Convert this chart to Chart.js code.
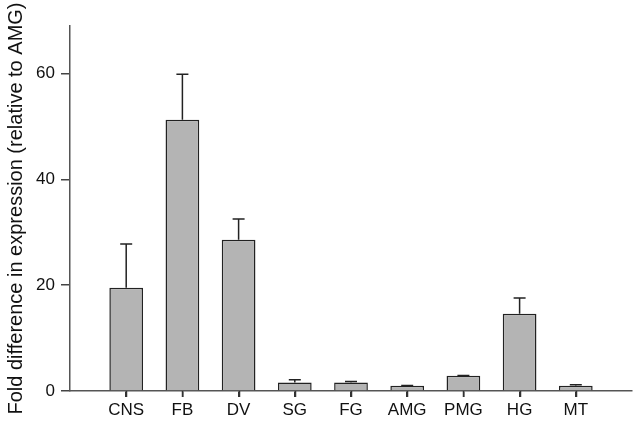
<!DOCTYPE html>
<html>
<head>
<meta charset="utf-8">
<script src="https://cdn.jsdelivr.net/npm/chart.js@4.4.1/dist/chart.umd.min.js"></script>
<style>
html,body{margin:0;padding:0;background:#fff;}
#wrap{width:638px;height:423px;}
</style>
</head>
<body>
<div id="wrap"><canvas id="c" width="638" height="423"></canvas></div>
<script>
const categories = ['CNS','FB','DV','SG','FG','AMG','PMG','HG','MT'];
const means = [19.5, 51.3, 28.6, 1.6, 1.6, 1.0, 2.9, 14.6, 1.0];
const errors = [8.3, 8.6, 3.9, 0.55, 0.2, 0.05, 0.05, 3.0, 0.2];
const yTicks = [0, 20, 40, 60];

const FONT = 'Liberation Sans, Arial, sans-serif';

const errorBarPlugin = {
  id: 'errorBars',
  afterDatasetsDraw(chart) {
    const ctx = chart.ctx;
    const xs = chart.scales.x, ys = chart.scales.y;
    ctx.save();
    ctx.strokeStyle = '#222';
    ctx.lineWidth = 1.5;
    means.forEach((m, i) => {
      const x = xs.getPixelForValue(i + 1);
      const y0 = ys.getPixelForValue(m);
      const y1 = ys.getPixelForValue(m + errors[i]);
      ctx.beginPath();
      ctx.moveTo(x, y0);
      ctx.lineTo(x, y1);
      ctx.moveTo(x - 6, y1);
      ctx.lineTo(x + 6, y1);
      ctx.stroke();
    });
    // category tick marks below the x axis
    ctx.strokeStyle = '#333';
    const yb = ys.getPixelForValue(0);
    categories.forEach((c, i) => {
      const x = Math.round(xs.getPixelForValue(i + 1)) + 0.5;
      ctx.beginPath();
      ctx.moveTo(x, yb);
      ctx.lineTo(x, yb + 6);
      ctx.stroke();
    });
    ctx.restore();
  }
};

new Chart(document.getElementById('c'), {
  type: 'bar',
  data: {
    datasets: [{
      data: means.map((v, i) => ({x: i + 1, y: v})),
      backgroundColor: '#b4b4b4',
      borderColor: '#222',
      borderWidth: 1.5,
      borderSkipped: 'bottom',
      barPercentage: 0.6,
      categoryPercentage: 1.0
    }]
  },
  options: {
    responsive: false,
    animation: false,
    layout: {padding: {top: 26, right: 6, left: 0, bottom: 0}},
    plugins: {legend: {display: false}, tooltip: {enabled: false}},
    scales: {
      x: {
        type: 'linear',
        min: 0, max: 10,
        offset: false,
        afterBuildTicks(scale) { scale.ticks = categories.map((c, i) => ({value: i + 1})); },
        afterFit(scale) { scale.height = 32; },
        ticks: {
          autoSkip: false,
          maxRotation: 0,
          padding: 3,
          color: '#111',
          font: {family: FONT, size: 17},
          callback: (v) => categories[v - 1] || ''
        },
        grid: {display: true, offset: false, drawOnChartArea: false, drawTicks: true, tickLength: 6, color: '#333', lineWidth: 1.5},
        border: {display: true, color: '#555', width: 1.5}
      },
      y: {
        min: 0, max: 69,
        afterBuildTicks(scale) { scale.ticks = yTicks.map(v => ({value: v})); },
        afterFit(scale) { scale.width = 70; },
        ticks: {
          padding: 6,
          color: '#111',
          font: {family: FONT, size: 17}
        },
        grid: {display: true, drawOnChartArea: false, drawTicks: true, tickLength: 9, color: '#444', lineWidth: 1.5},
        border: {display: true, color: '#555', width: 1.5},
        title: {
          display: true,
          text: 'Fold difference in expression (relative to AMG)',
          color: '#111',
          font: {family: FONT, size: 20},
          padding: {top: 4, bottom: 0}
        }
      }
    }
  },
  plugins: [errorBarPlugin]
});
</script>
</body>
</html>
